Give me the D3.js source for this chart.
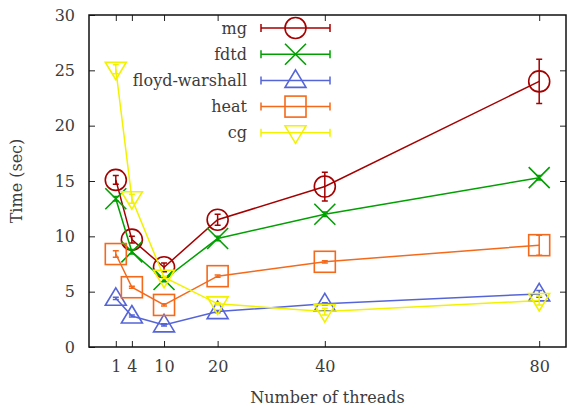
<!DOCTYPE html>
<html>
<head>
<meta charset="utf-8">
<script src="https://cdn.jsdelivr.net/npm/d3@7"></script>
<style>
  body { margin: 0; background: #fff; }
  svg text { font-family: "DejaVu Serif", serif !important; fill: #3c3c3c; }
</style>
</head>
<body>
<div id="chart"></div>
<script>
// thread counts on the x axis
const threads = [1, 4, 10, 20, 40, 80];
const xTicks = [1, 4, 10, 20, 40, 80];
const yTicks = [0, 5, 10, 15, 20, 25, 30];

// run times (sec) and error half-widths
const mg = [15.1, 9.7, 7.2, 11.5, 14.5, 24.0];
const mgErr = [0.4, 0.3, 0.4, 0.5, 1.3, 2.0];
const fdtd = [13.4, 8.6, 6.1, 9.8, 12.0, 15.3];
const fdtdErr = [0.2, 0.2, 0.2, 0.2, 0.2, 0.2];
const floyd = [4.4, 2.8, 2.0, 3.2, 3.9, 4.8];
const floydErr = [0.1, 0.1, 0.1, 0.1, 0.1, 0.3];
const heat = [8.4, 5.4, 3.8, 6.4, 7.7, 9.2];
const heatErr = [0.3, 0.1, 0.1, 0.1, 0.1, 0.9];
const cg = [25.1, 13.4, 6.3, 3.9, 3.2, 4.2];
const cgErr = [0.4, 0.4, 0.1, 0.1, 0.3, 0.4];

const series = [
  {name: "mg", values: mg, err: mgErr, color: "#a50000", symbol: "circle"},
  {name: "fdtd", values: fdtd, err: fdtdErr, color: "#00a000", symbol: "cross"},
  {name: "floyd-warshall", values: floyd, err: floydErr, color: "#5565d8", symbol: "up"},
  {name: "heat", values: heat, err: heatErr, color: "#f5691a", symbol: "square"},
  {name: "cg", values: cg, err: cgErr, color: "#f2f200", symbol: "down"}
];

var margin = {top: 15, right: 8, bottom: 62, left: 89},
    width = 574 - margin.left - margin.right,
    height = 409 - margin.top - margin.bottom;

var svg = d3.select("#chart")
  .append("svg")
    .attr("width", 574)
    .attr("height", 409)
  .append("g")
    .attr("transform", "translate(" + margin.left + "," + margin.top + ")");

var x = d3.scaleLinear().domain([-4, 85]).range([0, width]);
var y = d3.scaleLinear().domain([0, 30]).range([height, 0]);

// axes with inward ticks, mirrored on top / right
svg.append("g")
  .attr("transform", "translate(0," + height + ")")
  .call(d3.axisBottom(x).tickValues(xTicks).tickSizeInner(-6).tickSizeOuter(0).tickPadding(14))
  .call(g => g.select(".domain").remove());
svg.append("g")
  .call(d3.axisTop(x).tickValues(xTicks).tickSizeInner(-6).tickSizeOuter(0).tickFormat(""))
  .call(g => g.select(".domain").remove());
svg.append("g")
  .call(d3.axisLeft(y).tickValues(yTicks).tickSizeInner(-6).tickSizeOuter(0).tickPadding(14))
  .call(g => g.select(".domain").remove());
svg.append("g")
  .attr("transform", "translate(" + width + ",0)")
  .call(d3.axisRight(y).tickValues(yTicks.slice(1, 6)).tickSizeInner(-6).tickSizeOuter(0).tickFormat(""))
  .call(g => g.select(".domain").remove());

svg.selectAll(".tick text").style("font-size", "16px");
svg.selectAll(".tick line").attr("stroke", "#222");

svg.append("rect")
  .attr("width", width).attr("height", height)
  .attr("fill", "none").attr("stroke", "#111").attr("stroke-width", 1.5);

// axis titles
svg.append("text")
  .attr("transform", "translate(" + (-67) + "," + (height / 2) + ") rotate(-90)")
  .attr("text-anchor", "middle").style("font-size", "16px")
  .text("Time (sec)");
svg.append("text")
  .attr("x", width / 2).attr("y", height + 56)
  .attr("text-anchor", "middle").style("font-size", "16px")
  .text("Number of threads");

function drawSymbol(g, type, cx, cy, color) {
  var s = 10.5;
  if (type === "circle") {
    g.append("circle").attr("cx", cx).attr("cy", cy).attr("r", s)
      .attr("fill", "none").attr("stroke", color).attr("stroke-width", 1.6);
  } else if (type === "cross") {
    g.append("path")
      .attr("d", "M" + (cx - s) + "," + (cy - s) + "L" + (cx + s) + "," + (cy + s) +
                 "M" + (cx - s) + "," + (cy + s) + "L" + (cx + s) + "," + (cy - s))
      .attr("stroke", color).attr("stroke-width", 1.6);
  } else if (type === "square") {
    g.append("rect").attr("x", cx - s).attr("y", cy - s).attr("width", 2 * s).attr("height", 2 * s)
      .attr("fill", "none").attr("stroke", color).attr("stroke-width", 1.6);
  } else if (type === "up") {
    g.append("path")
      .attr("d", "M" + cx + "," + (cy - s) + "L" + (cx + s) + "," + (cy + 7) + "L" + (cx - s) + "," + (cy + 7) + "Z")
      .attr("fill", "none").attr("stroke", color).attr("stroke-width", 1.6);
  } else if (type === "down") {
    g.append("path")
      .attr("d", "M" + cx + "," + (cy + s) + "L" + (cx + s) + "," + (cy - 7) + "L" + (cx - s) + "," + (cy - 7) + "Z")
      .attr("fill", "none").attr("stroke", color).attr("stroke-width", 1.6);
  }
}

var line = d3.line()
  .x(function(d, i) { return x(threads[i]); })
  .y(function(d) { return y(d); });

series.forEach(function(s) {
  var g = svg.append("g");
  g.append("path").datum(s.values)
    .attr("fill", "none").attr("stroke", s.color).attr("stroke-width", 1.5)
    .attr("d", line);
  s.values.forEach(function(v, i) {
    var cx = x(threads[i]);
    var y0 = y(v - s.err[i]), y1 = y(v + s.err[i]);
    g.append("path")
      .attr("d", "M" + cx + "," + y0 + "L" + cx + "," + y1 +
                 "M" + (cx - 3) + "," + y0 + "L" + (cx + 3) + "," + y0 +
                 "M" + (cx - 3) + "," + y1 + "L" + (cx + 3) + "," + y1)
      .attr("stroke", s.color).attr("stroke-width", 1.5).attr("fill", "none");
    drawSymbol(g, s.symbol, cx, y(v), s.color);
  });
});

// legend
series.forEach(function(s, i) {
  var ly = 13 + i * 26.2;
  var g = svg.append("g");
  g.append("text").attr("x", 158).attr("y", ly).attr("dy", "0.35em")
    .attr("text-anchor", "end").style("font-size", "16px").text(s.name);
  g.append("path")
    .attr("d", "M172," + ly + "L241," + ly + "M172," + (ly - 4) + "L172," + (ly + 4) + "M241," + (ly - 4) + "L241," + (ly + 4))
    .attr("stroke", s.color).attr("stroke-width", 1.5);
  drawSymbol(g, s.symbol, 206.5, ly, s.color);
});
</script>
</body>
</html>
